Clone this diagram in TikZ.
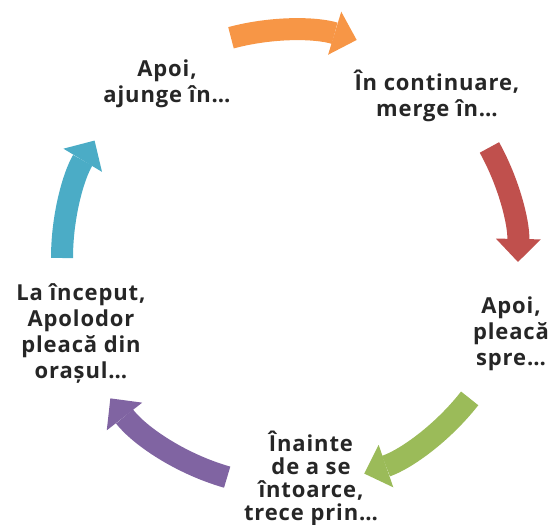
\documentclass[tikz,border=0pt]{standalone}
\usepackage{fontspec}
\setmainfont{Open Sans}[LetterSpace=4]
\usetikzlibrary{arrows.meta}
\definecolor{accorange}{HTML}{F79646}
\definecolor{accred}{HTML}{C0504D}
\definecolor{accgreen}{HTML}{9BBB59}
\definecolor{accpurple}{HTML}{8064A2}
\definecolor{accaqua}{HTML}{4BACC6}
\tikzset{
  cyc/.style={line width=22pt, -{Triangle[width=45pt,length=23pt,line width=0pt]}},
  step text/.style={align=center, text=black!85, font=\fontsize{22}{26}\selectfont\bfseries}
}
\begin{document}
\begin{tikzpicture}[x=1pt,y=1pt]
  \useasboundingbox (0,0) rectangle (555,525);
  \coordinate (c) at (290,267);
  % arrows of the cycle
  \draw[cyc, accorange] ([shift={(105:228)}]c) arc[start angle=105, end angle=73, radius=228];
  \draw[cyc, accred]    ([shift={(29:228)}]c)  arc[start angle=29, end angle=-1, radius=228];
  \draw[cyc, accgreen]  ([shift={(-38:228)}]c) arc[start angle=-38, end angle=-71, radius=228];
  \draw[cyc, accpurple] ([shift={(-106:228)}]c) arc[start angle=-106, end angle=-142, radius=228];
  \draw[cyc, accaqua]   ([shift={(180:228)}]c) arc[start angle=180, end angle=149, radius=228];
  % steps
  \node[step text] (start) at (81,191) {La început,\\Apolodor\\pleacă din\\orașul\dots};
  \node[step text] (then) at (167,441) {Apoi,\\ajunge în\dots};
  \node[step text] (next) at (437,429) {În continuare,\\merge în\dots};
  \node[step text] (leave) at (511,191) {Apoi,\\pleacă\\spre\dots};
  \node[step text, font=\fontsize{22}{23}\selectfont\bfseries] (back) at (311,47) {Înainte\\de a se\\întoarce,\\trece prin\dots};
\end{tikzpicture}
\end{document}
